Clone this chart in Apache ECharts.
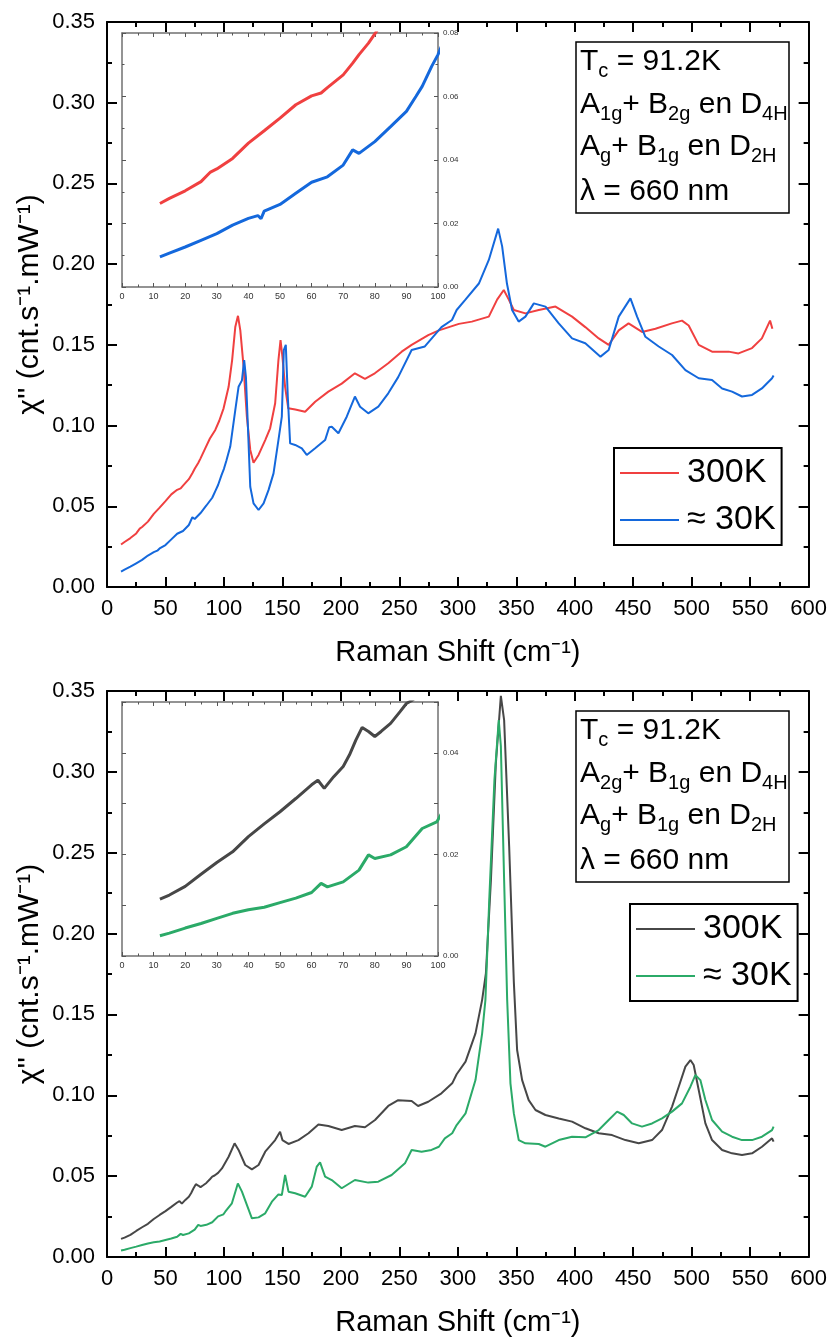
<!DOCTYPE html>
<html>
<head>
<meta charset="utf-8">
<script src="https://cdn.jsdelivr.net/npm/echarts@6/dist/echarts.min.js"></script>
<style>html,body{margin:0;padding:0;background:#fff}#c{width:830px;height:1338px}</style>
</head>
<body>
<div id="c"></div>
<script>
// ---------- DATA ----------
// Raman shift (cm^-1), chi'' (cnt.s^-1.mW^-1)
const topRed300K = [
[12,0.0263],[15,0.0279],[20,0.0303],[25,0.0332],[28,0.0362],[30,0.0372],[35,0.0405],[40,0.0453],[45,0.0492],[50,0.0532],
[55,0.0574],[60,0.0602],[63,0.0611],[65,0.0628],[70,0.0668],[73,0.0705],[75,0.0732],[78,0.0768],[80,0.0797],[84,0.0859],
[88,0.092],[92.6,0.0973],[96,0.103],[99.7,0.1107],[104,0.124],[107,0.1406],[109.7,0.161],[112,0.168],[114,0.159],[116.8,0.1365],
[119.6,0.1055],[122.5,0.0849],[125.3,0.077],[129.6,0.0818],[135.3,0.091],[139.5,0.0983],[143.8,0.1138],[146.6,0.1406],[148.4,0.153],[150,0.1427],
[152.3,0.124],[155,0.1107],[161,0.110],[169.4,0.1086],[178,0.1148],[189.3,0.121],[200.7,0.126],[212,0.1324],[220.6,0.129],[229,0.1324],
[240.5,0.1386],[252,0.1458],[260.5,0.15],[274.7,0.156],[283.8,0.159],[300.9,0.163],[312,0.1644],[326.5,0.1675],[333.6,0.178],[339.3,0.184],
[343.6,0.178],[347.9,0.1716],[357.8,0.1695],[369.2,0.1716],[383.5,0.1737],[397.7,0.1675],[409,0.161],[420.5,0.154],[429,0.15],[437.6,0.159],
[446,0.1633],[457.5,0.158],[469,0.160],[483,0.1633],[491.7,0.165],[497.4,0.162],[506,0.150],[517.4,0.1458],[531.6,0.1458],[540,0.1447],
[551.6,0.148],[560,0.154],[567,0.165],[569,0.160]
];
const topBlue30K = [
[12,0.0095],[15,0.0107],[20,0.0126],[25,0.0147],[30,0.0168],[35,0.0195],[40,0.0216],[43,0.0225],[44,0.0215],[45,0.0239],
[50,0.026],[55,0.0295],[60,0.033],[65,0.0347],[70,0.0384],[73,0.0432],[75,0.0421],[80,0.0458],[85,0.0505],[90,0.0553],
[93,0.06],[95,0.0632],[98,0.0695],[100,0.0732],[102,0.078],[105.4,0.087],[109.7,0.1096],[112.5,0.124],[115.4,0.128],[117.3,0.1406],
[118.8,0.130],[120.5,0.0993],[122.5,0.0621],[125.3,0.0518],[129.6,0.0477],[133.9,0.0518],[138.1,0.060],[142.4,0.0704],[146.6,0.091],[149.5,0.1055],
[151.2,0.1468],[152.9,0.150],[154.6,0.118],[156.6,0.089],[160.9,0.088],[166.6,0.0859],[170.8,0.0818],[178,0.0859],[186.5,0.091],[190,0.099],
[192.2,0.0993],[197.9,0.0952],[205,0.1055],[212,0.118],[216.4,0.1117],[223.4,0.1076],[232,0.1117],[240.5,0.12],[249,0.130],[260.5,0.1468],
[271.8,0.149],[286,0.161],[295,0.1654],[299,0.1716],[306.5,0.178],[318,0.188],[326.5,0.2026],[334.5,0.222],[337.9,0.211],[342,0.188],
[346.4,0.1716],[352,0.1644],[357.8,0.1675],[365,0.1757],[375,0.1737],[386.3,0.1633],[397.7,0.154],[409,0.151],[422,0.1427],[429,0.1468],
[437.6,0.1675],[447.6,0.1788],[453.3,0.1675],[460.4,0.155],[471.8,0.149],[483.2,0.1437],[494.6,0.1344],[506,0.1293],[517.4,0.1282],[526,0.123],
[534.5,0.121],[543,0.118],[551.6,0.119],[560,0.123],[568.7,0.1293],[570,0.131]
];
const botGray300K = [
[12,0.0112],[15,0.012],[20,0.0137],[25,0.0161],[30,0.0184],[35,0.0205],[40,0.0235],[45,0.026],[50,0.0284],[55,0.031],
[60,0.0337],[62,0.0346],[64,0.033],[67,0.0353],[70,0.0373],[72,0.0396],[74,0.0425],[76,0.045],[78,0.0442],[80,0.0432],
[82,0.0442],[85,0.0458],[88,0.0481],[90,0.0497],[92,0.0504],[95,0.052],[98.3,0.0548],[104,0.062],[109.1,0.0703],[112.5,0.0662],
[118.2,0.0569],[123.9,0.0542],[129.6,0.0569],[135.3,0.0651],[143.8,0.0723],[148,0.0775],[150,0.0723],[155.2,0.0699],[163.7,0.0723],[172.3,0.0765],
[180.8,0.082],[189.3,0.081],[200.7,0.0785],[212,0.081],[220.6,0.0802],[229.2,0.0847],[240.5,0.0934],[249,0.097],[260.5,0.0965],[266,0.0934],
[274.7,0.096],[286,0.1012],[295.2,0.1074],[299,0.113],[306.6,0.1208],[315.1,0.1383],[320.8,0.159],[324,0.1754],[328.3,0.233],[332.5,0.305],
[336.8,0.347],[339.6,0.332],[343.9,0.254],[347.9,0.17],[350.7,0.128],[355,0.1094],[360.6,0.097],[366.4,0.0909],[374.9,0.0878],[386.3,0.0857],
[397.7,0.0837],[409.1,0.0796],[420.5,0.0765],[431.9,0.0754],[443.3,0.0723],[454.7,0.0703],[466.1,0.0723],[474.6,0.0785],[483.2,0.093],[488.9,0.1053],
[494.6,0.1177],[498.9,0.1218],[501.7,0.1187],[506,0.1033],[511.7,0.0826],[517.4,0.0723],[526,0.0662],[534.5,0.0641],[543,0.0631],[551.6,0.0641],
[560.1,0.0682],[568.7,0.0734],[570,0.0713]
];
const botGreen30K = [
[12,0.004],[15,0.0045],[20,0.0055],[25,0.0064],[30,0.0074],[35,0.0084],[40,0.0091],[45,0.0096],[50,0.0105],[55,0.0114],
[60,0.0125],[63,0.0143],[65,0.0136],[70,0.0146],[75,0.0169],[78,0.0199],[80,0.0192],[85,0.0199],[90,0.0215],[95,0.0251],
[99.6,0.0264],[101.1,0.028],[106.8,0.0332],[111.9,0.0455],[115.4,0.0404],[119.6,0.0322],[123.9,0.0239],[129.6,0.0245],[135.3,0.027],[141,0.0342],
[146.6,0.0387],[149.5,0.0383],[152.3,0.0507],[155.2,0.0404],[160.9,0.0394],[169.4,0.0373],[175.1,0.0435],[179.4,0.0559],[182.2,0.0585],[186.5,0.0497],
[192.2,0.0476],[200.7,0.0425],[212,0.0476],[223.4,0.046],[232,0.0466],[243.4,0.0507],[254.8,0.0579],[260.5,0.0662],[269,0.0651],[277.5,0.0662],
[283.8,0.0682],[288.9,0.0734],[295.2,0.0765],[299,0.0816],[306.6,0.0888],[315.1,0.1094],[320.8,0.1383],[323.6,0.159],[327,0.223],[331.3,0.295],
[335,0.332],[336.8,0.316],[339.6,0.233],[342.2,0.159],[345,0.1074],[347.9,0.0888],[352.1,0.0723],[357.8,0.0703],[369.2,0.0699],[374.9,0.0682],
[386.3,0.0723],[397.7,0.0744],[409.1,0.074],[420.5,0.0785],[429,0.0847],[436.2,0.0899],[441.9,0.0878],[449,0.0826],[457.5,0.0806],[466.1,0.0826],
[474.6,0.0857],[483.2,0.0899],[491.7,0.095],[498.9,0.1053],[503.1,0.1125],[507.4,0.1094],[511.7,0.0971],[517.4,0.0847],[526,0.0775],[534.5,0.0744],
[543,0.0723],[551.6,0.0723],[560.1,0.0744],[568.7,0.0785],[570,0.0806]
];
const legendLabels = {t300:'300K', t30:'\u2248 30K', b300:'300K', b30:'\u2248 30K'};
const xTitle = 'Raman Shift (cm\u207B\u00B9)';
const yTitle = "\u03C7'' (cnt.s\u207B\u00B9.mW\u207B\u00B9)";
const mainXRange = {min:0, max:600, step:50};
const mainYRange = {min:0, max:0.35, step:0.05};
const topInsetRange = {xmin:0, xmax:100, xstep:10, ymin:0, ymax:0.08, ystep:0.02};
const botInsetRange = {xmin:0, xmax:100, xstep:10, ymin:0, ymax:0.05, ystep:0.01};

// ---------- LAYOUT / STYLE ----------
const FONT = "'Liberation Sans', Arial, Helvetica, sans-serif";
const C = {red:'#F04040', blue:'#1468DC', gray:'#474747', green:'#2BAA68'};
const chart = echarts.init(document.getElementById('c'), null, {renderer:'canvas'});

function mainX(gi, pos, label, name) {
  return {
    type:'value', gridIndex:gi, position:pos, min:mainXRange.min, max:mainXRange.max, interval:mainXRange.step,
    axisLine:{show:true, onZero:false, lineStyle:{color:'#000', width:2}},
    axisTick:{show:true, inside:true, length:10, lineStyle:{color:'#000', width:2}},
    minorTick:{show:true, splitNumber:2, length:5, lineStyle:{color:'#000', width:2}},
    axisLabel:{show:label, fontSize:22, color:'#000', fontFamily:FONT, margin:11},
    splitLine:{show:false},
    name: name || '', nameLocation:'middle', nameGap:51, nameMoveOverlap:false,
    nameTextStyle:{fontSize:29, color:'#000', fontFamily:FONT}
  };
}
function mainY(gi, pos, label, name) {
  return {
    type:'value', gridIndex:gi, position:pos, min:mainYRange.min, max:mainYRange.max, interval:mainYRange.step,
    axisLine:{show:true, onZero:false, lineStyle:{color:'#000', width:2}},
    axisTick:{show:true, inside:true, length:10, lineStyle:{color:'#000', width:2}},
    minorTick:{show:true, splitNumber:2, length:5, lineStyle:{color:'#000', width:2}},
    axisLabel:{show:label, fontSize:22, color:'#000', fontFamily:FONT, margin:12, formatter:v=>v.toFixed(2)},
    splitLine:{show:false},
    name: name || '', nameLocation:'middle', nameGap:62, nameMoveOverlap:false,
    nameTextStyle:{fontSize:30, color:'#000', fontFamily:FONT}
  };
}
function insetX(gi, pos, label, r) {
  return {
    type:'value', gridIndex:gi, position:pos, min:r.xmin, max:r.xmax, interval:r.xstep, z:11,
    axisLine:{show:true, onZero:false, lineStyle:{color:'#707070', width:1.5}},
    axisTick:{show:true, inside:true, length:4, lineStyle:{color:'#555', width:1}},
    minorTick:{show:true, splitNumber:2, length:2.5, lineStyle:{color:'#555', width:1}},
    axisLabel:{show:label, fontSize:9, color:'#333', fontFamily:FONT, margin:5},
    splitLine:{show:false}
  };
}
function insetY(gi, pos, label, r, fmt) {
  return {
    type:'value', gridIndex:gi, position:pos, min:r.ymin, max:r.ymax, interval:r.ystep, z:11,
    axisLine:{show:true, onZero:false, lineStyle:{color:'#707070', width:1.5}},
    axisTick:{show:true, inside:true, length:4, lineStyle:{color:'#555', width:1}},
    minorTick:{show: r.ystep > 0.015, splitNumber:2, length:2.5, lineStyle:{color:'#555', width:1}},
    axisLabel:{show:label, fontSize:8, color:'#333', fontFamily:FONT, margin:5, formatter:fmt},
    splitLine:{show:false}
  };
}
function line(name, data, color, xi, yi, width, z) {
  return {
    name, type:'line', data, xAxisIndex:xi, yAxisIndex:yi, symbol:'none', showSymbol:false,
    lineStyle:{color, width}, itemStyle:{color}, animation:false, clip:true, z, silent:true
  };
}
function sub(t){ return '{s|' + t + '}'; }
function m(t){ return '{m|' + t + '}'; }
const rich = {
  m:{fontSize:30, lineHeight:40, fontFamily:FONT, fill:'#000'},
  s:{fontSize:20, lineHeight:20, padding:[20,0,0,0], fontFamily:FONT, fill:'#000'}
};
function annot(dy, line2) {
  const lines = [
    m('T') + sub('c') + m(' = 91.2K'),
    line2,
    m('A') + sub('g') + m('+ B') + sub('1g') + m(' en D') + sub('2H'),
    m('\u03BB = 660 nm')
  ];
  const base = [72, 115, 157, 202];
  const els = [{type:'rect', z:30, shape:{x:576, y:42+dy, width:213, height:171}, style:{fill:'#fff', stroke:'#000', lineWidth:1.5}}];
  lines.forEach((t, i) => {
    els.push({type:'text', z:31, x:580, y:base[i] + dy - 30.5, style:{text:t, rich, align:'left', verticalAlign:'top', fill:'#000'}});
  });
  return els;
}

const legendCommon = {
  orient:'vertical', itemWidth:59, itemHeight:16, itemGap:13,
  itemStyle:{opacity:0},
  backgroundColor:'#fff', borderColor:'#000', borderWidth:2, padding:[8,6,8,5],
  textStyle:{fontSize:34, color:'#000', fontFamily:FONT, padding:[0,0,0,3]},
  formatter: n => legendLabels[n], selectedMode:false, z:30
};

const option = {
  backgroundColor:'#fff',
  animation:false,
  grid:[
    {left:107, top:22, width:703, height:565, show:false},
    {left:122, top:33, width:316, height:254, show:true, backgroundColor:'#fff', borderWidth:0, z:10},
    {left:107, top:691, width:703, height:566, show:false},
    {left:122, top:702, width:316, height:254, show:true, backgroundColor:'#fff', borderWidth:0, z:10}
  ],
  xAxis:[
    mainX(0,'bottom',true,xTitle), mainX(0,'top',false),
    insetX(1,'bottom',true,topInsetRange), insetX(1,'top',false,topInsetRange),
    mainX(2,'bottom',true,xTitle), mainX(2,'top',false),
    insetX(3,'bottom',true,botInsetRange), insetX(3,'top',false,botInsetRange)
  ],
  yAxis:[
    mainY(0,'left',true,yTitle), mainY(0,'right',false),
    insetY(1,'left',false,topInsetRange), insetY(1,'right',true,topInsetRange, v=>v.toFixed(2)),
    mainY(2,'left',true,yTitle), mainY(2,'right',false),
    insetY(3,'left',false,botInsetRange), insetY(3,'right',true,botInsetRange, v=>(Math.round(v*100)%2===0 ? v.toFixed(2) : ''))
  ],
  legend:[
    Object.assign({}, legendCommon, {data:['t300','t30'], left:614, top:448}),
    Object.assign({}, legendCommon, {data:['b300','b30'], left:630, top:904})
  ],
  series:[
    line('t300', topRed300K, C.red, 0, 0, 2, 2),
    line('t30', topBlue30K, C.blue, 0, 0, 2, 3),
    line('ti300', topRed300K, C.red, 2, 3, 3, 12),
    line('ti30', topBlue30K, C.blue, 2, 3, 3, 12),
    line('b300', botGray300K, C.gray, 4, 4, 2, 2),
    line('b30', botGreen30K, C.green, 4, 4, 2, 3),
    line('bi300', botGray300K, C.gray, 6, 7, 3, 12),
    line('bi30', botGreen30K, C.green, 6, 7, 3, 12)
  ],
  graphic:[].concat(
    annot(0, m('A') + sub('1g') + m('+ B') + sub('2g') + m(' en D') + sub('4H')),
    annot(669, m('A') + sub('2g') + m('+ B') + sub('1g') + m(' en D') + sub('4H'))
  )
};
chart.setOption(option);
</script>
</body>
</html>
